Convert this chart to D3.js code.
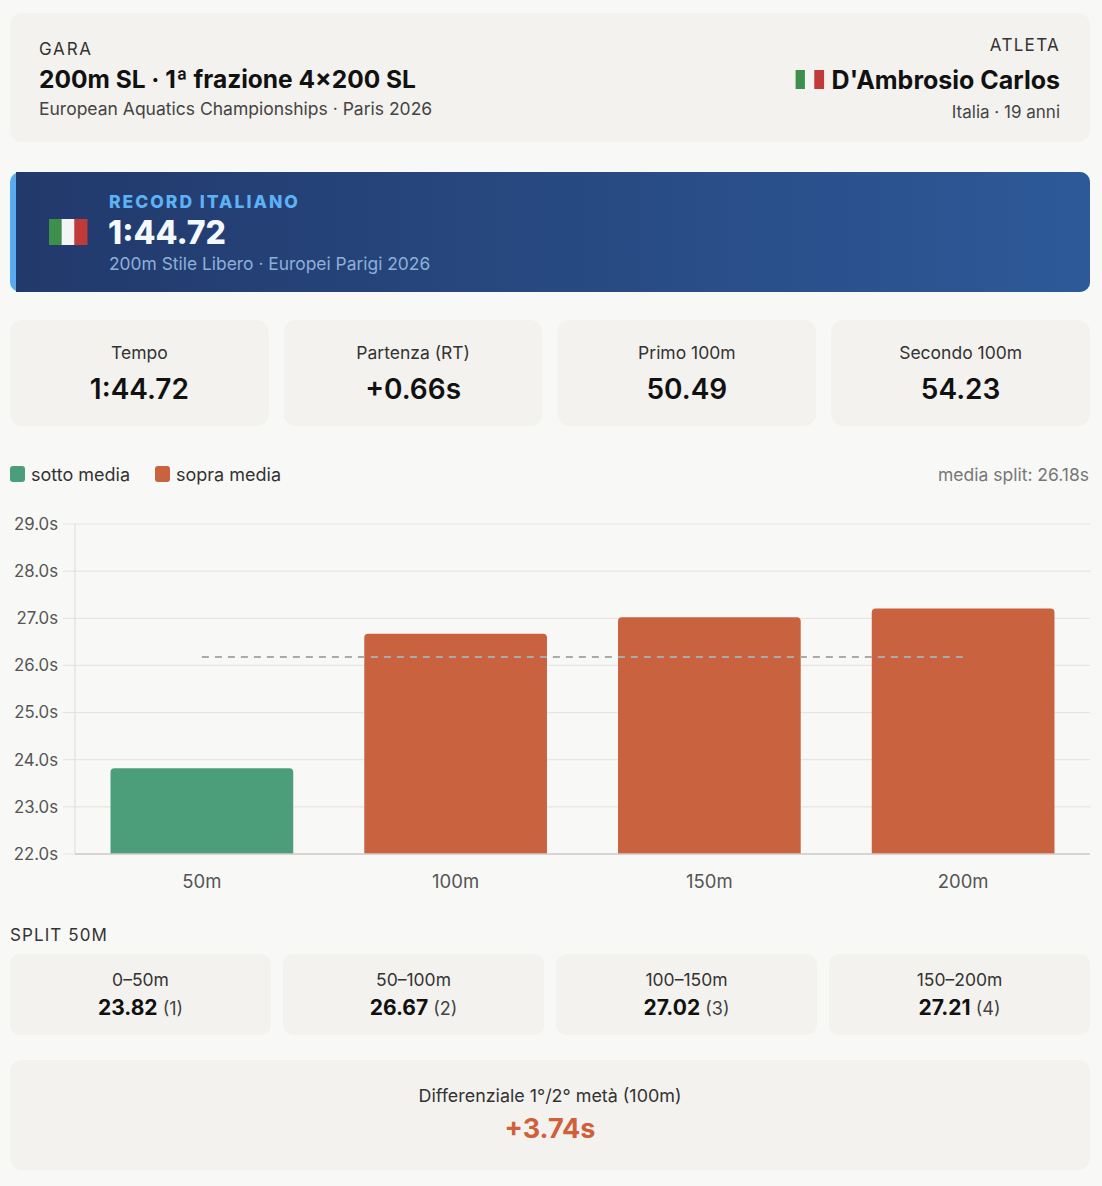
<!DOCTYPE html>
<html>
<head>
<meta charset="utf-8">
<script src="https://d3js.org/d3.v7.min.js"></script>
<style>
  body{margin:0;background:#f8f8f6;}
  svg{display:block;font-family:"Inter","Noto Sans",sans-serif;}
</style>
</head>
<body>
<svg id="page" width="1102" height="1186"></svg>
<script>
// data
const splitLabels=["50m","100m","150m","200m"];
const splitRanges=["0–50m","50–100m","100–150m","150–200m"];
const splitTimes=[23.82,26.67,27.02,27.21];
const splitRanks=[1,2,3,4];
const yTicks=[22,23,24,25,26,27,28,29];
const statLabels=["Tempo","Partenza (RT)","Primo 100m","Secondo 100m"];
const statValues=["1:44.72","+0.66s","50.49","54.23"];

const green="#4c9d79", orange="#c9623e", cardFill="#f3f2ee";
const mean=d3.mean(splitTimes);

let svg=d3.select("#page");

function card(x,y,w,h,r){
    return svg.append("rect").attr("x",x).attr("y",y).attr("width",w).attr("height",h)
        .attr("rx",r||12).attr("fill",cardFill);
}
function flag(g,x,y,w,h){
    let f=g.append("g").attr("transform",`translate(${x},${y})`);
    let cols=["#3e8e4e","#f4f4f4","#c03a3a"];
    cols.forEach((c,i)=>f.append("rect").attr("x",i*w/3).attr("y",0).attr("width",w/3+0.5).attr("height",h).attr("fill",c));
    return f;
}

// header card
card(10,13,1080,129);
svg.append("text").attr("x",39).attr("y",55).attr("font-size",17).attr("letter-spacing",1.8).attr("fill","#333").text("GARA");
svg.append("text").attr("x",39).attr("y",88).attr("font-size",24.5).attr("font-weight",700).attr("fill","#111").text("200m SL · 1ª frazione 4×200 SL");
svg.append("text").attr("x",39).attr("y",115).attr("font-size",17.5).attr("fill","#444").text("European Aquatics Championships · Paris 2026");
svg.append("text").attr("x",1060).attr("y",51).attr("text-anchor","end").attr("font-size",17).attr("letter-spacing",1.3).attr("fill","#333").text("ATLETA");
let nameT=svg.append("text").attr("x",1060).attr("y",89).attr("text-anchor","end").attr("font-size",25).attr("font-weight",700).attr("fill","#111").text("D'Ambrosio Carlos");
let nw=nameT.node().getComputedTextLength();
flag(svg,1060-nw-36,70,28,19);
svg.append("text").attr("x",1060).attr("y",118).attr("text-anchor","end").attr("font-size",17).attr("fill","#444").text("Italia · 19 anni");

// record banner
let defs=svg.append("defs");
let grad=defs.append("linearGradient").attr("id","bannerGrad").attr("x1","0%").attr("x2","100%");
grad.append("stop").attr("offset","0%").attr("stop-color","#22396b");
grad.append("stop").attr("offset","100%").attr("stop-color","#2d5998");
svg.append("rect").attr("x",10).attr("y",172).attr("width",1080).attr("height",120).attr("rx",10).attr("fill","#5aaaf0");
svg.append("rect").attr("x",16).attr("y",172).attr("width",1074).attr("height",120).attr("rx",10).attr("fill","url(#bannerGrad)");
svg.append("rect").attr("x",16).attr("y",172).attr("width",12).attr("height",120).attr("fill","#22396b");
flag(svg,49,219,38,26);
svg.append("text").attr("x",109).attr("y",208).attr("font-size",17.5).attr("font-weight",800).attr("letter-spacing",2).attr("fill","#5db1f6").text("RECORD ITALIANO");
svg.append("text").attr("x",108).attr("y",244).attr("font-size",32).attr("font-weight",800).attr("fill","#f4f8ff").text("1:44.72");
svg.append("text").attr("x",109).attr("y",270).attr("font-size",17.4).attr("fill","#8db0da").text("200m Stile Libero · Europei Parigi 2026");

// stat cards
let statX=d3.scaleBand().domain(d3.range(4)).range([10,1105]).paddingInner(0);
statLabels.forEach((lab,i)=>{
    let x0=statX(i), w=statX.bandwidth()-15;
    card(x0,320,w,106);
    svg.append("text").attr("x",x0+w/2).attr("y",359).attr("text-anchor","middle").attr("font-size",17.5).attr("fill","#333").text(lab);
    svg.append("text").attr("x",x0+w/2).attr("y",399).attr("text-anchor","middle").attr("font-size",28).attr("font-weight",600).attr("fill","#111").text(statValues[i]);
});

// legend
svg.append("rect").attr("x",10).attr("y",466).attr("width",15).attr("height",16).attr("rx",3).attr("fill",green);
svg.append("text").attr("x",31).attr("y",481).attr("font-size",18).attr("fill","#333").text("sotto media");
svg.append("rect").attr("x",155).attr("y",466).attr("width",15).attr("height",16).attr("rx",3).attr("fill",orange);
svg.append("text").attr("x",176).attr("y",481).attr("font-size",18).attr("fill","#333").text("sopra media");
svg.append("text").attr("x",1089).attr("y",481).attr("text-anchor","end").attr("font-size",17.5).attr("fill","#777").text("media split: "+mean.toFixed(2)+"s");

// chart
let plotL=75, plotR=1090, plotT=524, plotB=854;
let x=d3.scaleBand().domain(splitLabels).range([plotL,plotR]).paddingInner(0.28).paddingOuter(0.14);
let y=d3.scaleLinear().domain([22,29]).range([plotB,plotT]);

let chart=svg.append("g");
chart.selectAll("line.grid").data(yTicks).join("line").attr("class","grid")
    .attr("x1",63).attr("x2",plotR).attr("y1",d=>y(d)).attr("y2",d=>y(d))
    .attr("stroke","#e7e5e1").attr("stroke-width",1.2);
chart.append("line").attr("x1",plotL).attr("x2",plotL).attr("y1",plotT).attr("y2",plotB).attr("stroke","#e3e1dd").attr("stroke-width",1.2);

let yAxis=chart.append("g").attr("transform",`translate(${plotL},0)`)
    .call(d3.axisLeft(y).tickValues(yTicks).tickFormat(d=>d3.format(".1f")(d)+"s").tickSize(0).tickPadding(17));
yAxis.select(".domain").remove();
yAxis.selectAll("text").attr("font-size",16.8).attr("fill","#555").attr("font-family","Inter, sans-serif");

function topRounded(x0,y0,w,h,r){
    return `M${x0},${y0+h}V${y0+r}Q${x0},${y0} ${x0+r},${y0}H${x0+w-r}Q${x0+w},${y0} ${x0+w},${y0+r}V${y0+h}Z`;
}
chart.selectAll("path.bar").data(splitTimes).join("path").attr("class","bar")
    .attr("d",(d,i)=>topRounded(x(splitLabels[i]),y(d),x.bandwidth(),y(22)-y(d),4))
    .attr("fill",d=>d<mean?green:orange);

chart.append("line").attr("x1",plotL).attr("x2",plotR).attr("y1",plotB).attr("y2",plotB).attr("stroke","#cfcdc9").attr("stroke-width",1.5);

let c0=x(splitLabels[0])+x.bandwidth()/2, c1=x(splitLabels[3])+x.bandwidth()/2;
chart.append("line").attr("x1",c0).attr("x2",c1).attr("y1",y(mean)).attr("y2",y(mean))
    .attr("stroke","#aaa").attr("stroke-width",2).attr("stroke-dasharray","7,6");

let xAxis=chart.append("g").attr("transform",`translate(0,${plotB})`)
    .call(d3.axisBottom(x).tickSize(0).tickPadding(21));
xAxis.select(".domain").remove();
xAxis.selectAll("text").attr("font-size",18.5).attr("fill","#555").attr("font-family","Inter, sans-serif");

// split cards
svg.append("text").attr("x",10).attr("y",941).attr("font-size",17).attr("letter-spacing",1.1).attr("fill","#333").text("SPLIT 50M");
let sX=d3.scaleBand().domain(d3.range(4)).range([10,1102]).paddingInner(0);
splitTimes.forEach((t,i)=>{
    let x0=sX(i), w=sX.bandwidth()-12;
    card(x0,954,w,81,10);
    svg.append("text").attr("x",x0+w/2).attr("y",986).attr("text-anchor","middle").attr("font-size",17.5).attr("fill","#333").text(splitRanges[i]);
    let v=svg.append("text").attr("x",x0+w/2).attr("y",1015).attr("text-anchor","middle").attr("fill","#111");
    v.append("tspan").attr("font-size",21).attr("font-weight",700).text(t.toFixed(2));
    v.append("tspan").attr("font-size",18).attr("fill","#444").text(" ("+splitRanks[i]+")");
});

// differential
let diff=d3.sum(splitTimes.slice(2))-d3.sum(splitTimes.slice(0,2));
card(10,1060,1080,110);
svg.append("text").attr("x",550).attr("y",1102).attr("text-anchor","middle").attr("font-size",17.9).attr("fill","#333").text("Differenziale 1°/2° metà (100m)");
svg.append("text").attr("x",550).attr("y",1138).attr("text-anchor","middle").attr("font-size",27).attr("font-weight",700).attr("fill","#d0603a").text((diff>=0?"+":"")+diff.toFixed(2)+"s");
</script>
</body>
</html>
